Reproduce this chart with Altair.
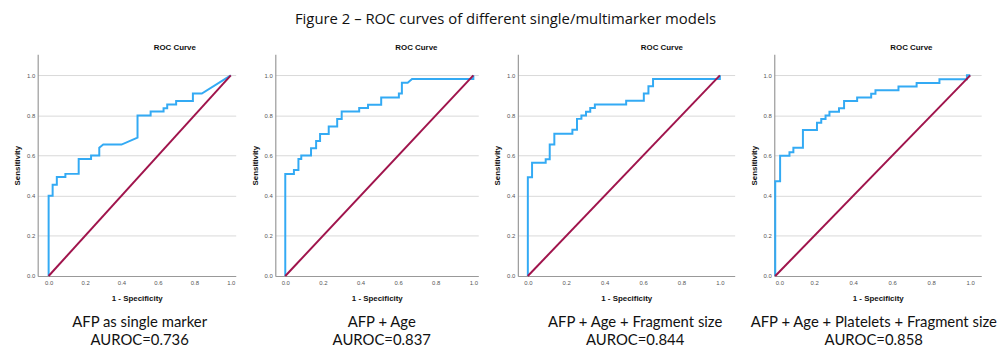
import altair as alt
import pandas as pd

# ---------------- data ----------------
fpr1 = [0, 0, 0.022, 0.022, 0.045, 0.045, 0.092, 0.092, 0.165, 0.165, 0.233, 0.233,
        0.278, 0.278, 0.30, 0.40, 0.488, 0.488, 0.56, 0.56, 0.631, 0.631, 0.651, 0.651,
        0.70, 0.70, 0.792, 0.792, 0.841, 1.0]
tpr1 = [0, 0.40, 0.40, 0.455, 0.455, 0.493, 0.493, 0.509, 0.509, 0.583, 0.583, 0.60,
        0.60, 0.639, 0.655, 0.655, 0.69, 0.80, 0.80, 0.82, 0.82, 0.836, 0.836, 0.855,
        0.855, 0.872, 0.872, 0.909, 0.909, 1.0]

fpr2 = [0, 0, 0.046, 0.046, 0.07, 0.07, 0.085, 0.085, 0.137, 0.137, 0.164, 0.164,
        0.185, 0.185, 0.231, 0.231, 0.276, 0.276, 0.30, 0.30, 0.393, 0.393, 0.44, 0.44,
        0.51, 0.51, 0.604, 0.604, 0.62, 0.62, 0.651, 0.674, 1.0, 1.0]
tpr2 = [0, 0.508, 0.508, 0.528, 0.528, 0.583, 0.583, 0.60, 0.60, 0.637, 0.637, 0.673,
        0.673, 0.708, 0.708, 0.745, 0.745, 0.782, 0.782, 0.82, 0.82, 0.837, 0.837, 0.853,
        0.853, 0.89, 0.89, 0.91, 0.91, 0.963, 0.963, 0.982, 0.982, 1.0]

fpr3 = [0, 0, 0.022, 0.022, 0.093, 0.093, 0.114, 0.114, 0.138, 0.138, 0.232, 0.232,
        0.256, 0.256, 0.279, 0.279, 0.303, 0.303, 0.325, 0.325, 0.349, 0.349, 0.512,
        0.512, 0.604, 0.604, 0.628, 0.628, 0.652, 0.652, 1.0, 1.0]
tpr3 = [0, 0.492, 0.492, 0.564, 0.564, 0.582, 0.582, 0.655, 0.655, 0.709, 0.709, 0.729,
        0.729, 0.783, 0.783, 0.80, 0.80, 0.819, 0.819, 0.837, 0.837, 0.855, 0.855,
        0.873, 0.873, 0.91, 0.91, 0.946, 0.946, 0.982, 0.982, 1.0]

fpr4 = [0, 0, 0.025, 0.025, 0.073, 0.073, 0.093, 0.093, 0.142, 0.142, 0.214, 0.214,
        0.236, 0.236, 0.258, 0.258, 0.278, 0.278, 0.327, 0.327, 0.353, 0.353, 0.42, 0.42,
        0.492, 0.492, 0.514, 0.514, 0.632, 0.632, 0.725, 0.725, 0.842, 0.842, 0.983,
        0.983, 1.0]
tpr4 = [0, 0.472, 0.472, 0.599, 0.599, 0.617, 0.617, 0.639, 0.639, 0.728, 0.728, 0.764,
        0.764, 0.782, 0.782, 0.80, 0.80, 0.818, 0.818, 0.836, 0.836, 0.872, 0.872, 0.89,
        0.89, 0.908, 0.908, 0.926, 0.926, 0.944, 0.944, 0.962, 0.962, 0.98, 0.98, 1.0, 1.0]

ref_x = [0, 1]
ref_y = [0, 1]

captions = [
    ["AFP as single marker", "AUROC=0.736"],
    ["AFP + Age", "AUROC=0.837"],
    ["AFP + Age + Fragment size", "AUROC=0.844"],
    ["AFP + Age + Platelets + Fragment size", "AUROC=0.858"],
]
tick_vals = [0.0, 0.2, 0.4, 0.6, 0.8, 1.0]

figure_title = "Figure 2 \u2013 ROC curves of different single/multimarker models"
panel_title = "ROC Curve"
x_title = "1 - Specificity"
y_title = "Sensitivity"

BLUE = "#33AAF4"
RED = "#A0144C"
AXFONT = "Liberation Sans"
CAPFONT = "Lato"


def panel(fpr, tpr, caption, xdom, width, height, roc_x, cap_dx):
    df = pd.DataFrame({"fpr": fpr, "tpr": tpr, "i": list(range(len(fpr)))})
    ref = pd.DataFrame({"fpr": ref_x, "tpr": ref_y})
    xs = alt.Scale(domain=xdom, nice=False, zero=False)
    ys = alt.Scale(domain=[0, 1.105], nice=False)
    curve = alt.Chart(df).mark_line(color=BLUE, strokeWidth=2).encode(
        x=alt.X("fpr:Q", scale=xs, axis=alt.Axis(
            title=x_title, values=tick_vals, format=".1f", grid=False, ticks=False,
            labelFontSize=6, labelColor="#555", labelPadding=4, labelFont=AXFONT,
            titleFont=AXFONT, titleFontSize=8, titleFontWeight="bold", titleColor="#111",
            titlePadding=9, domainColor="#999", domainWidth=1.2)),
        y=alt.Y("tpr:Q", scale=ys, axis=alt.Axis(
            title=y_title, values=tick_vals, format=".1f", grid=True, ticks=False,
            gridColor="#d9d9d9", gridWidth=1,
            labelFontSize=6, labelColor="#555", labelPadding=3, labelFont=AXFONT,
            titleFont=AXFONT, titleFontSize=8, titleFontWeight="bold", titleColor="#111",
            titlePadding=5, domainColor="#999", domainWidth=1.2)),
        order="i:Q",
    )
    diag = alt.Chart(ref).mark_line(color=RED, strokeWidth=2).encode(
        x=alt.X("fpr:Q", scale=xs, axis=alt.Axis(
            orient="top", title=panel_title, labels=False, ticks=False, domain=False,
            grid=False, titleX=roc_x, titleFont=AXFONT, titleFontSize=8,
            titleFontWeight="bold", titleColor="#111", titlePadding=3)),
        y=alt.Y("tpr:Q", scale=ys),
    )
    return alt.layer(curve, diag).resolve_axis(x="independent").properties(
        width=width, height=height,
        title=alt.TitleParams(caption, orient="bottom", anchor="middle", font=CAPFONT,
                              fontSize=15, fontWeight="normal", color="#111",
                              lineHeight=19, offset=12, dx=cap_dx),
    )


p1 = panel(fpr1, tpr1, captions[0], [-0.060, 1.027], 200, 224, 138, 3)
p2 = panel(fpr2, tpr2, captions[1], [-0.053, 1.026], 205, 224, 142, 5)
p3 = panel(fpr3, tpr3, captions[2], [-0.052, 1.077], 219, 224, 145, 9)
p4 = panel(fpr4, tpr4, captions[3], [-0.005, 1.056], 209, 224, 138, -4)

chart = alt.hconcat(p1, p2, p3, p4, spacing=40, bounds="flush").properties(
    title=alt.TitleParams(figure_title, anchor="middle", font="Open Sans", fontSize=15,
                          fontWeight="normal", color="#111", offset=17),
    padding={"left": 5, "top": 2, "right": 0, "bottom": 0},
    background="white",
).configure_view(stroke=None)

chart.save("out.html", embed_options={"renderer": "svg", "actions": False})
